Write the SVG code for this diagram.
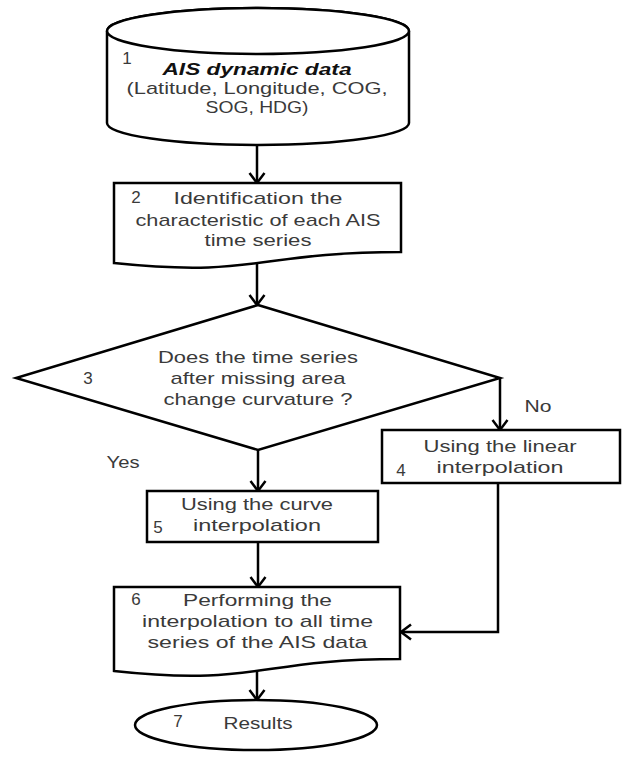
<svg xmlns="http://www.w3.org/2000/svg" width="622" height="757" viewBox="0 0 622 757">
<style>
.shape{fill:#fff;stroke:#000;stroke-width:2.5}
.t{font-family:"Liberation Sans",Arial,sans-serif;font-size:17px;fill:#3a3a3a;text-anchor:middle}
.n{font-family:"Liberation Sans",Arial,sans-serif;font-size:17px;fill:#3a3a3a;text-anchor:middle}
.bi{font-weight:bold;font-style:italic;fill:#111}
.c{fill:none;stroke:#000;stroke-width:2.5}
</style>
<defs>
<marker id="ah" markerUnits="userSpaceOnUse" markerWidth="12" markerHeight="16" viewBox="0 0 12 16" refX="11" refY="8" orient="auto" overflow="visible">
<path d="M1,0.5 L11,8 L1,15.5" fill="none" stroke="#000" stroke-width="2.5"/>
</marker>
</defs>
<rect width="622" height="757" fill="#fff"/>
<g id="connectors">
<line class="c" x1="257" y1="145" x2="257" y2="183" marker-end="url(#ah)"/>
<line class="c" x1="257" y1="263" x2="257" y2="305" marker-end="url(#ah)"/>
<line class="c" x1="500" y1="378" x2="500" y2="430" marker-end="url(#ah)"/>
<line class="c" x1="258" y1="450" x2="258" y2="491" marker-end="url(#ah)"/>
<line class="c" x1="258" y1="542" x2="258" y2="587" marker-end="url(#ah)"/>
<polyline class="c" points="498,483 498,632 401,632" marker-end="url(#ah)"/>
<line class="c" x1="257" y1="671" x2="257" y2="700" marker-end="url(#ah)"/>
<text class="t" x="123" y="468" textLength="33" lengthAdjust="spacingAndGlyphs">Yes</text>
<text class="t" x="538" y="412" textLength="27" lengthAdjust="spacingAndGlyphs">No</text>
</g>
<g id="node1">
<path class="shape" d="M107,31 V123 A151,22 0 0 0 409,123 V31 A151,23 0 0 0 107,31 Z"/>
<ellipse class="shape" cx="258" cy="31" rx="151" ry="23"/>
<text class="n" x="127" y="64">1</text>
<text class="t bi" x="257" y="75" textLength="189" lengthAdjust="spacingAndGlyphs">AIS dynamic data</text>
<text class="t" x="257" y="94" textLength="261" lengthAdjust="spacingAndGlyphs">(Latitude, Longitude, COG,</text>
<text class="t" x="257" y="113" textLength="103" lengthAdjust="spacingAndGlyphs">SOG, HDG)</text>
</g>
<g id="node2">
<path class="shape" d="M114,183 H401 V252 C257.5,252 257.5,278 114,263 Z"/>
<text class="n" x="136" y="203">2</text>
<text class="t" x="258" y="204" textLength="169" lengthAdjust="spacingAndGlyphs">Identification the</text>
<text class="t" x="258" y="226" textLength="245" lengthAdjust="spacingAndGlyphs">characteristic of each AIS</text>
<text class="t" x="258" y="246" textLength="107" lengthAdjust="spacingAndGlyphs">time series</text>
</g>
<g id="node3">
<polygon class="shape" points="258,305 500,378 258,450 16,378"/>
<text class="n" x="88" y="384">3</text>
<text class="t" x="258" y="363" textLength="200" lengthAdjust="spacingAndGlyphs">Does the time series</text>
<text class="t" x="258" y="384" textLength="175" lengthAdjust="spacingAndGlyphs">after missing area</text>
<text class="t" x="258" y="405" textLength="189" lengthAdjust="spacingAndGlyphs">change curvature ?</text>
</g>
<g id="node4">
<rect class="shape" x="382" y="430" width="238" height="53"/>
<text class="n" x="401" y="476">4</text>
<text class="t" x="500" y="452" textLength="153" lengthAdjust="spacingAndGlyphs">Using the linear</text>
<text class="t" x="500" y="473" textLength="127" lengthAdjust="spacingAndGlyphs">interpolation</text>
</g>
<g id="node5">
<rect class="shape" x="147" y="491" width="231" height="51"/>
<text class="n" x="158" y="533">5</text>
<text class="t" x="257" y="510" textLength="152" lengthAdjust="spacingAndGlyphs">Using the curve</text>
<text class="t" x="257" y="531" textLength="128" lengthAdjust="spacingAndGlyphs">interpolation</text>
</g>
<g id="node6">
<path class="shape" d="M114,587 H400 V659 C257,659 257,686.6 114,671 Z"/>
<text class="n" x="136" y="605">6</text>
<text class="t" x="257.5" y="606" textLength="149" lengthAdjust="spacingAndGlyphs">Performing the</text>
<text class="t" x="257.5" y="627" textLength="231" lengthAdjust="spacingAndGlyphs">interpolation to all time</text>
<text class="t" x="257.5" y="648" textLength="220" lengthAdjust="spacingAndGlyphs">series of the AIS data</text>
</g>
<g id="node7">
<ellipse class="shape" cx="256" cy="725" rx="121" ry="25"/>
<text class="n" x="178" y="727">7</text>
<text class="t" x="258" y="729" textLength="69" lengthAdjust="spacingAndGlyphs">Results</text>
</g>
</svg>
